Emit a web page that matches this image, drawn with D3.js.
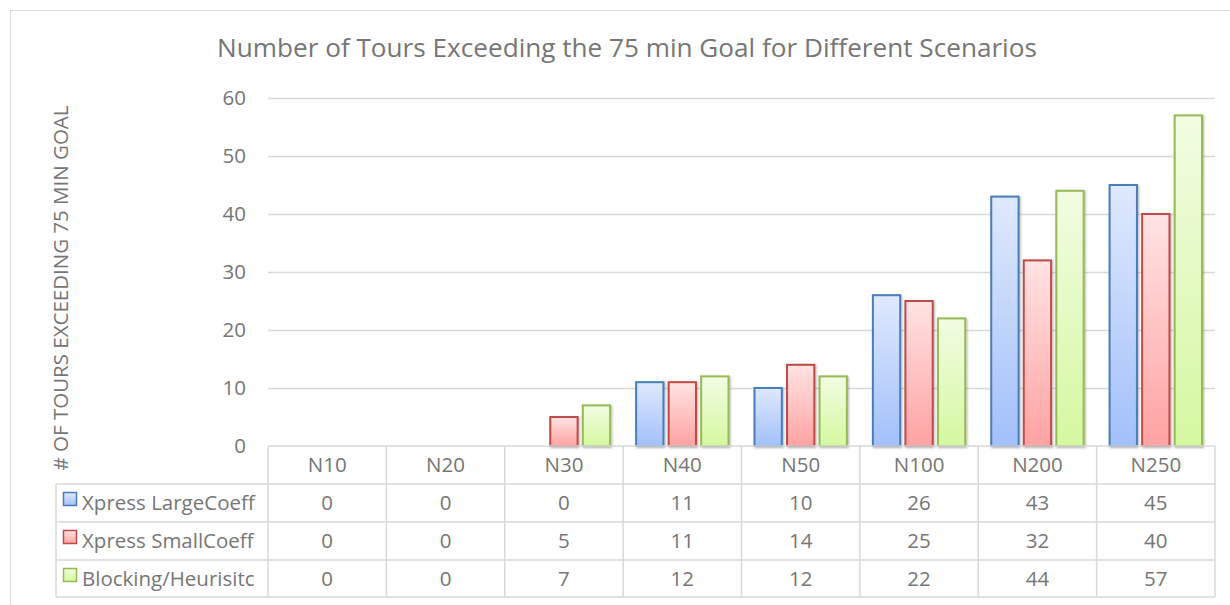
<!DOCTYPE html>
<html>
<head>
<meta charset="utf-8">
<script src="https://cdn.jsdelivr.net/npm/d3@7"></script>
<style>
  body { margin: 0; background: #fff; }
  svg { display: block; }
  text { font-family: "Open Sans", sans-serif; fill: #767676; }
</style>
</head>
<body>
<svg id="chart" width="1230" height="605"></svg>
<script>
var categories = ["N10", "N20", "N30", "N40", "N50", "N100", "N200", "N250"];
var seriesNames = ["Xpress LargeCoeff", "Xpress SmallCoeff", "Blocking/Heurisitc"];
var largeCoeff = [0, 0, 0, 11, 10, 26, 43, 45];
var smallCoeff = [0, 0, 5, 11, 14, 25, 32, 40];
var blocking = [0, 0, 7, 12, 12, 22, 44, 57];
var yTicks = [0, 10, 20, 30, 40, 50, 60];

var seriesValues = [largeCoeff, smallCoeff, blocking];
let colors = [
  { top: "#dfe9fd", bottom: "#a2c0fa", stroke: "#4a7ebb" },
  { top: "#ffe3e3", bottom: "#ffa2a2", stroke: "#be4b48" },
  { top: "#f2fce3", bottom: "#d5f8a0", stroke: "#98b954" }
];

const svg = d3.select("#chart");
const plotLeft = 268, plotRight = 1215, plotTop = 98, base = 446;
const rowH = 38;
const fs = "20.5px";

// shrink or grow a text node's font so it spans the given width
function fitWidth(sel, target) {
  let size = parseFloat(sel.style("font-size"));
  let w = sel.node().getComputedTextLength();
  sel.style("font-size", (size * target / w).toFixed(2) + "px");
}

// outer chart border
svg.append("rect")
  .attr("x", 10.5).attr("y", 10.5)
  .attr("width", 1240).attr("height", 620)
  .attr("fill", "none").attr("stroke", "#d9d9d9");

const defs = svg.append("defs");
colors.forEach((c, i) => {
  let g = defs.append("linearGradient")
    .attr("id", "grad" + i)
    .attr("x1", 0).attr("y1", 0).attr("x2", 0).attr("y2", 1);
  g.append("stop").attr("offset", "0%").attr("stop-color", c.top);
  g.append("stop").attr("offset", "100%").attr("stop-color", c.bottom);
});
const shadow = defs.append("filter").attr("id", "shadow")
  .attr("x", "-20%").attr("y", "-20%").attr("width", "140%").attr("height", "140%");
shadow.append("feDropShadow")
  .attr("dx", 1).attr("dy", 1).attr("stdDeviation", 1.2)
  .attr("flood-color", "#000").attr("flood-opacity", 0.3);

// title
const title = svg.append("text")
  .attr("x", 627).attr("y", 57)
  .attr("text-anchor", "middle")
  .style("font-size", "22px")
  .text("Number of Tours Exceeding the 75 min Goal for Different Scenarios");
fitWidth(title, 820);

const x0 = d3.scaleBand().domain(categories).range([plotLeft, plotRight]);
const x1 = d3.scaleBand().domain(d3.range(seriesNames.length))
  .range([13, x0.bandwidth() - 13]).paddingInner(0.16);
const y = d3.scaleLinear().domain([0, 60]).range([base, plotTop]);

// gridlines
svg.append("g")
  .selectAll("line")
  .data(yTicks.filter(t => t > 0))
  .enter()
  .append("line")
  .attr("x1", plotLeft).attr("x2", plotRight)
  .attr("y1", d => Math.round(y(d)) + 0.5)
  .attr("y2", d => Math.round(y(d)) + 0.5)
  .attr("stroke", "#d9d9d9").attr("stroke-width", 1.5);

// y axis labels
const yAxis = svg.append("g")
  .attr("transform", `translate(246,0)`)
  .call(d3.axisLeft(y).tickValues(yTicks).tickSize(0).tickPadding(0));
yAxis.select(".domain").remove();
yAxis.selectAll("text")
  .style("font-size", fs)
  .style("font-family", "'Open Sans', sans-serif")
  .attr("fill", "#767676");

const yTitle = svg.append("text")
  .attr("transform", "translate(68,288) rotate(-90)")
  .attr("text-anchor", "middle")
  .style("font-size", "17px")
  .text("# OF TOURS EXCEEDING 75 MIN GOAL");
fitWidth(yTitle, 365);

// bars
seriesValues.forEach((vals, s) => {
  svg.append("g")
    .selectAll("rect")
    .data(vals.map((v, i) => ({ cat: categories[i], v: v })).filter(d => d.v > 0))
    .enter()
    .append("rect")
    .attr("x", d => x0(d.cat) + x1(s))
    .attr("y", d => y(d.v))
    .attr("width", x1.bandwidth())
    .attr("height", d => base - y(d.v))
    .attr("fill", "url(#grad" + s + ")")
    .attr("stroke", colors[s].stroke)
    .attr("stroke-width", 2)
    .attr("filter", "url(#shadow)");
});

// data table
const table = svg.append("g").attr("stroke", "#d9d9d9").attr("stroke-width", 1.5);
const legLeft = 56;
const tableBottom = base + rowH * 4 - 1;
// horizontal lines
table.append("line").attr("x1", plotLeft).attr("x2", plotRight).attr("y1", base).attr("y2", base);
for (let r = 1; r <= 4; r++) {
  let yy = base + r * rowH - (r == 4 ? 1 : 0);
  table.append("line").attr("x1", legLeft).attr("x2", plotRight).attr("y1", yy).attr("y2", yy);
}
// vertical lines
table.append("line").attr("x1", legLeft).attr("x2", legLeft).attr("y1", base + rowH).attr("y2", tableBottom);
categories.forEach(c => {
  table.append("line").attr("x1", x0(c)).attr("x2", x0(c)).attr("y1", base).attr("y2", tableBottom);
});
table.append("line").attr("x1", plotRight).attr("x2", plotRight).attr("y1", base).attr("y2", tableBottom);

// header labels
svg.append("g")
  .selectAll("text")
  .data(categories)
  .enter()
  .append("text")
  .attr("x", d => x0(d) + x0.bandwidth() / 2)
  .attr("y", base + rowH / 2 + 7)
  .attr("text-anchor", "middle")
  .style("font-size", fs)
  .text(d => d);

// rows
seriesValues.forEach((vals, s) => {
  let rowY = base + (s + 1) * rowH + rowH / 2 + 7;
  svg.append("rect")
    .attr("x", 63.5).attr("y", rowY - 17.5)
    .attr("width", 13).attr("height", 13)
    .attr("fill", "url(#grad" + s + ")")
    .attr("stroke", colors[s].stroke).attr("stroke-width", 1.5);
  svg.append("text")
    .attr("x", 82).attr("y", rowY)
    .style("font-size", fs)
    .text(seriesNames[s]);
  svg.append("g")
    .selectAll("text")
    .data(vals)
    .enter()
    .append("text")
    .attr("x", (d, i) => x0(categories[i]) + x0.bandwidth() / 2)
    .attr("y", rowY)
    .attr("text-anchor", "middle")
    .style("font-size", fs)
    .text(d => d);
});
</script>
</body>
</html>
